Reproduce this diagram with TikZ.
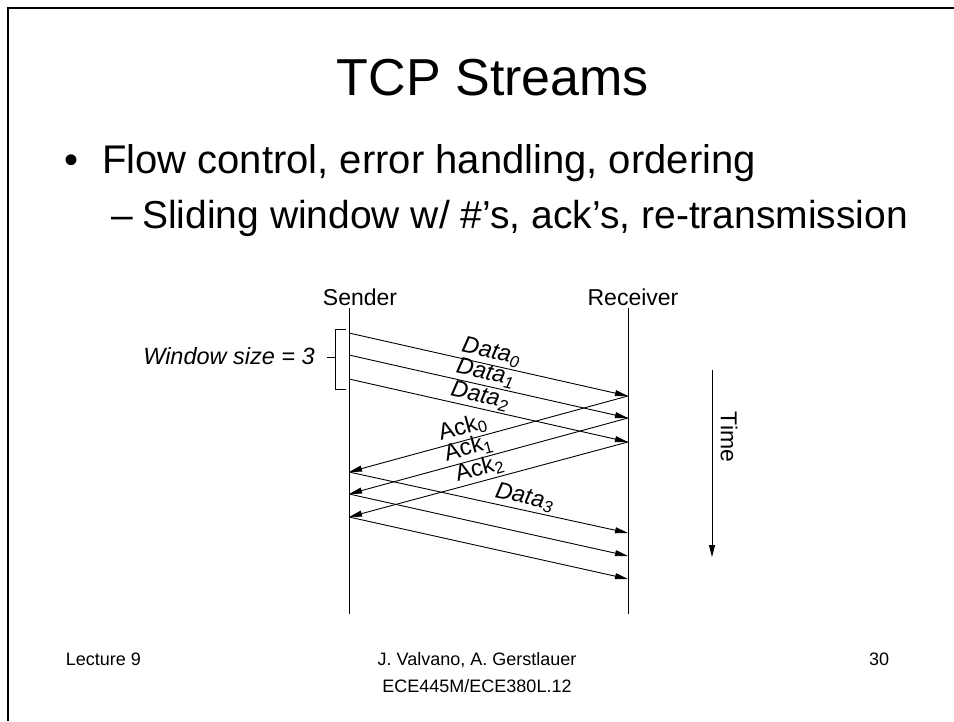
\documentclass[tikz,border=0pt]{standalone}
\usepackage{fontspec}
\setmainfont{Liberation Sans}
\usetikzlibrary{arrows.meta,positioning}

\begin{document}
\begin{tikzpicture}[x=1pt,y=-1pt,
	slidetext/.style={inner sep=0pt,font=\fontsize{#1}{#1}\selectfont},
	difflabel/.style={inner sep=0pt,font=\fontsize{23}{23}\selectfont},
	timeline/.style={line width=1pt},
	msg/.style={line width=0.9pt,-{Triangle[length=13pt,width=6pt]}},
	ackmsg/.style={line width=0.9pt,{Triangle[length=13pt,width=6pt]}-},
	datalabel/.style={difflabel,font=\fontsize{23.5}{23.5}\selectfont\itshape,sloped,above=2pt,inner sep=0pt},
	acklabel/.style={difflabel,font=\fontsize{23.5}{23.5}\selectfont,sloped,above=2pt,inner sep=0pt}
]
	\useasboundingbox (0,0) rectangle (954,721);
	% slide frame
	\draw[line width=2.5pt] (8,721) -- (8,8) -- (954,8);

	% title and bullets
	\node[slidetext=52,anchor=base] (title) at (493,95) {TCP Streams};
	\node[slidetext=40,anchor=base] (dot) at (72,173) {•};
	\node[slidetext=40,anchor=base west] (flow) at (102,173) {Flow control, error handling, ordering};
	\node[slidetext=39,anchor=base west] (dash) at (111,228) {–};
	\node[slidetext=39,anchor=base west] (sliding) at (142,228) {Sliding window w/ \#’s, ack’s, re-transmission};

	% sender and receiver
	\node[difflabel,anchor=base] (sender) at (360,305) {Sender};
	\node[difflabel,anchor=base] (receiver) at (633,305) {Receiver};
	\coordinate (sendtop) at (349,308);
	\coordinate (sendbot) at (349,614);
	\coordinate (recvtop) at (628,308);
	\coordinate (recvbot) at (628,614);
	\draw[timeline] (sendtop) -- (sendbot);
	\draw[timeline] (recvtop) -- (recvbot);

	\coordinate (s0) at (349,333);
	\coordinate (s1) at (349,355);
	\coordinate (s2) at (349,379);
	\coordinate (s3) at (349,472);
	\coordinate (s4) at (349,494);
	\coordinate (s5) at (349,517);
	\coordinate (r0) at (628,396);
	\coordinate (r1) at (628,418);
	\coordinate (r2) at (628,442);
	\coordinate (r3) at (628,533);
	\coordinate (r4) at (628,556);
	\coordinate (r5) at (628,579);

	% data and acks
	\draw[msg] (s0) -- node[datalabel,pos=.5] (d0) {Data\textsubscript{0}} (r0);
	\draw[msg] (s1) -- node[datalabel,pos=.48] (d1) {Data\textsubscript{1}} (r1);
	\draw[msg] (s2) -- node[datalabel,pos=.46] (d2) {Data\textsubscript{2}} (r2);
	\draw[ackmsg] (s3) -- node[acklabel,pos=.42] (a0) {Ack\textsubscript{0}} (r0);
	\draw[ackmsg] (s4) -- node[acklabel,pos=.44] (a1) {Ack\textsubscript{1}} (r1);
	\draw[ackmsg] (s5) -- node[acklabel,pos=.48] (a2) {Ack\textsubscript{2}} (r2);
	\draw[msg] (s3) -- node[datalabel,pos=.62] (d3) {Data\textsubscript{3}} (r3);
	\draw[msg] (s4) -- (r4);
	\draw[msg] (s5) -- (r5);

	% window bracket
	\node[difflabel,font=\fontsize{23.5}{23.5}\selectfont\itshape,anchor=east] (win) at (315,356) {Window size = 3};
	\coordinate (brtop) at (346,329);
	\coordinate (brbot) at (346,389);
	\coordinate (brmid) at (335,357);
	\coordinate (tick) at (327,357);
	\draw (brtop) -- (335,329) -- (335,389) -- (brbot);
	\draw (tick) -- (brmid);

	% time
	\coordinate (timetop) at (712,370);
	\coordinate (timebot) at (712,557);
	\draw[line width=1pt,-{Triangle[length=12pt,width=6pt]}] (timetop) -- (timebot);
	\node[difflabel,rotate=-90] (time) at (729,437) {Time};

	% footer
	\node[slidetext=18,anchor=base east] (lecture) at (141,665) {Lecture 9};
	\node[slidetext=18,anchor=base] (authors) at (477,665) {J. Valvano, A. Gerstlauer};
	\node[slidetext=18,anchor=base] (course) at (477,692) {ECE445M/ECE380L.12};
	\node[slidetext=18,anchor=base west] (page) at (869,665) {30};
\end{tikzpicture}
\end{document}
